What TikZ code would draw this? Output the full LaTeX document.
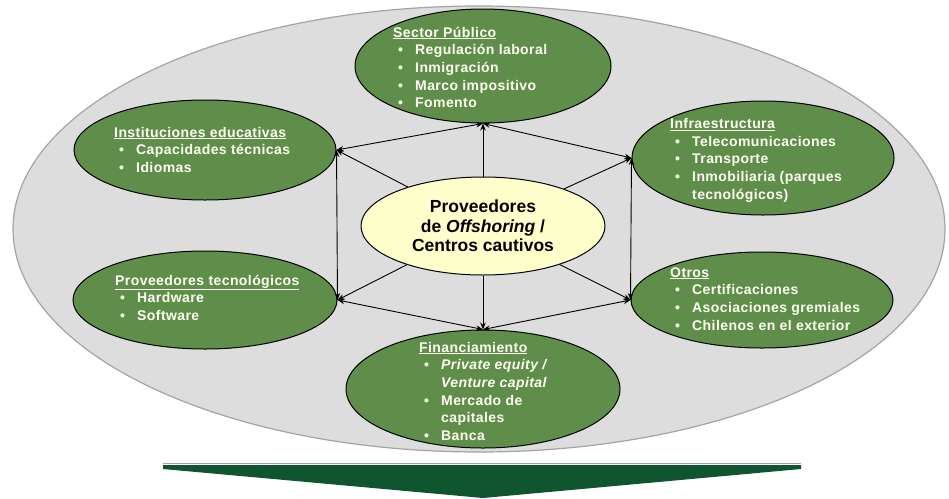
\documentclass[tikz,border=0pt]{standalone}
\usepackage{fontspec}
\setmainfont{Liberation Sans}
\newfontfamily\blkfont{Liberation Sans}[LetterSpace=3]
\usetikzlibrary{shapes.geometric,arrows.meta}
\definecolor{bgfill}{HTML}{DDDDDD}
\definecolor{bgline}{HTML}{A4A4A4}
\definecolor{leaf}{HTML}{5E8E4A}
\definecolor{core}{HTML}{FFFFCC}
\definecolor{chev}{HTML}{0F5530}
\definecolor{ink}{HTML}{FFFFF2}
% bullet item and continuation line inside the green ovals
\newcommand{\itm}[1]{\makebox[22pt][l]{\hspace{5pt}•}#1}
\newcommand{\cont}[1]{\hspace*{22pt}#1}
\begin{document}
\begin{tikzpicture}[x=1pt,y=-1pt,
  oval/.style={ellipse, inner sep=0pt, draw=black, line width=1pt, fill=leaf},
  blk/.style={anchor=north west, inner sep=0pt, align=left, text=ink,
    font=\blkfont\fontsize{14}{17.7}\selectfont\bfseries},
  tip/.tip={Stealth[length=7pt,width=5.5pt]},
  link/.style={line width=0.9pt, -tip},
  ring/.style={line width=0.9pt, tip-tip}]
\useasboundingbox (0,0) rectangle (949,498);

% large grey backdrop
\node[ellipse, draw=bgline, fill=bgfill, line width=1.2pt, inner sep=0pt,
  minimum width=932pt, minimum height=446pt] (bg) at (479,229) {};

% surrounding factors
\node[oval, minimum width=256pt, minimum height=114pt] (sp)  at (483,66)  {};
\node[oval, minimum width=262pt, minimum height=100pt] (ie)  at (205,150) {};
\node[oval, minimum width=262pt, minimum height=114pt] (inf) at (763,158) {};
\node[oval, minimum width=264pt, minimum height=98pt]  (pt)  at (205,300) {};
\node[oval, minimum width=262pt, minimum height=96pt]  (ot)  at (762,300) {};
\node[oval, minimum width=274pt, minimum height=118pt] (fin) at (483,389) {};

% central actor
\node[oval, fill=core, minimum width=244pt, minimum height=98pt, align=center,
  font=\fontsize{17.5}{19.5}\selectfont\bfseries] (ctr) at (483,226)
  {Proveedores\\de \textit{Offshoring} /\\Centros cautivos};

% texts of the factors
\node[blk] (tsp) at (393,24.5) {\strut\underline{Sector Público}\\
  \itm{Regulación laboral}\\ \itm{Inmigración}\\ \itm{Marco impositivo}\\ \itm{Fomento}};
\node[blk] (tie) at (114,124.5) {\strut\underline{Instituciones educativas}\\
  \itm{Capacidades técnicas}\\ \itm{Idiomas}};
\node[blk] (tinf) at (670,116) {\strut\underline{Infraestructura}\\
  \itm{Telecomunicaciones}\\ \itm{Transporte}\\ \itm{Inmobiliaria (parques}\\ \cont{tecnológicos)}};
\node[blk] (tpt) at (115,272.5) {\strut\underline{Proveedores tecnológicos}\\
  \itm{Hardware}\\ \itm{Software}};
\node[blk] (tot) at (670,264.5) {\strut\underline{Otros}\\
  \itm{Certificaciones}\\ \itm{Asociaciones gremiales}\\ \itm{Chilenos en el exterior}};
\node[blk] (tfin) at (419,339.5) {\strut\underline{Financiamiento}\\
  \itm{\textit{Private equity /}}\\ \cont{\textit{Venture capital}}\\
  \itm{Mercado de}\\ \cont{capitales}\\ \itm{Banca}};

% corners of the hexagon of links
\coordinate (vsp)  at (sp.south);
\coordinate (vie)  at (ie.east);
\coordinate (vinf) at (inf.west);
\coordinate (vpt)  at (pt.east);
\coordinate (vot)  at (ot.west);
\coordinate (vfin) at (fin.north);

% links from the centre
\foreach \v in {vsp,vie,vinf,vpt,vot,vfin}
  \draw[link] (ctr) -- (\v);

% links around the ring
\draw[ring] (vsp) -- (vinf);
\draw[ring] (vinf) -- (vot);
\draw[ring] (vot) -- (vfin);
\draw[ring] (vfin) -- (vpt);
\draw[ring] (vpt) -- (vie);
\draw[ring] (vie) -- (vsp);

% downward chevron
\draw[draw=bgline, line width=0.8pt] (163,463.5) -- (801,463.5);
\fill[chev] (163,465) -- (801,465) -- (801,469) -- (483,498) -- (163,469) -- cycle;
\end{tikzpicture}
\end{document}
